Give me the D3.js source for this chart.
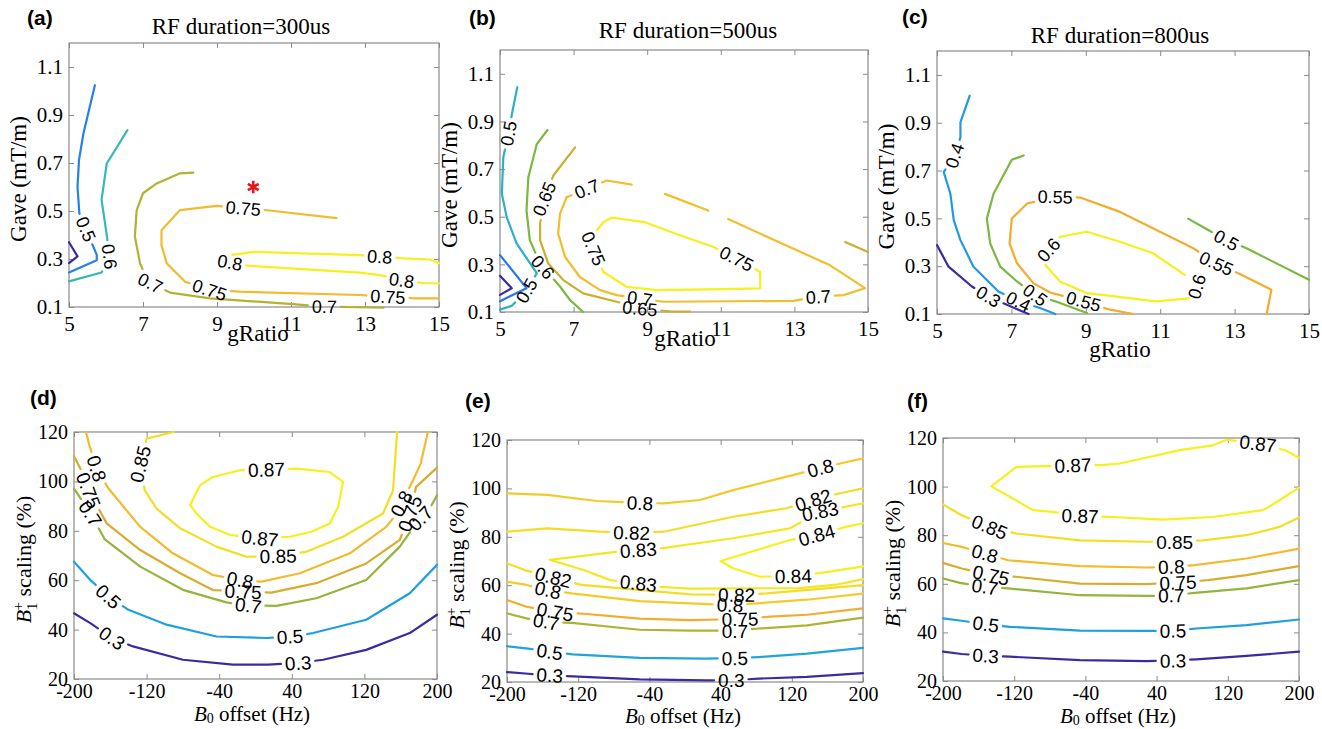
<!doctype html>
<html lang="en">
<head>
<meta charset="utf-8">
<title>Contour maps - gRatio / Gave and B0 / B1+</title>
<script src="https://cdn.jsdelivr.net/npm/d3@7"></script>
<style>
  body { margin: 0; background: #fff; }
  svg text { font-family: "Liberation Serif", "Times New Roman", serif; fill: #000; }
  .clabel { font-family: "Liberation Sans", Arial, sans-serif; }
  .tag { font-family: "Liberation Sans", Arial, sans-serif; font-weight: bold; }
</style>
</head>
<body>
<svg id="chart" width="1322" height="729"></svg>
<script>
// ---------- data ----------
const gRatioTicks = [5, 7, 9, 11, 13, 15];
const gaveTicks = [0.1, 0.3, 0.5, 0.7, 0.9, 1.1];
const b0Ticks = [-200, -120, -40, 40, 120, 200];
const b1Ticks = [20, 40, 60, 80, 100, 120];
const titles = ["RF duration=300us", "RF duration=500us", "RF duration=800us"];
const tags = ["(a)", "(b)", "(c)", "(d)", "(e)", "(f)"];

// contour lines: [level, points as [x, y]]
const aLines = [
  [0.4, [[5.0,0.37],[5.23,0.311],[5.0,0.283]]],
  [0.5, [[5.7,1.024],[5.39,0.823],[5.27,0.712],[5.23,0.601],[5.28,0.49],[5.75,0.317],[5.75,0.295],[5.0,0.244]]],
  [0.6, [[6.58,0.837],[6.02,0.698],[5.88,0.546],[6.0,0.421],[6.1,0.31],[5.88,0.244],[5.0,0.207]]],
  [0.7, [[8.36,0.66],[8.0,0.657],[7.37,0.615],[7.0,0.574],[6.83,0.504],[6.78,0.394],[6.92,0.282],[7.14,0.205],[7.73,0.16],[8.81,0.136],[11.06,0.112],[11.87,0.102],[12.5,0.1],[13.5,0.097]]],
  [0.75, [[12.23,0.47],[10.42,0.502],[8.99,0.521],[8.0,0.504],[7.5,0.42],[7.5,0.358],[7.64,0.282],[8.14,0.205],[8.81,0.171],[9.62,0.164],[12.86,0.15],[13.63,0.143],[14.35,0.136],[15,0.136]]],
  [0.8, [[15,0.199],[14.58,0.199],[13.99,0.212],[13.41,0.233],[12.86,0.243],[9.89,0.271],[9.2,0.29],[9.35,0.316],[9.98,0.33],[12.86,0.316],[14.04,0.303],[14.76,0.298],[15,0.282]]]
];
// contour labels: [level, x, y]
const aLabels = [[0.5,5.39,0.42],[0.6,6.1,0.31],[0.7,7.2,0.2],[0.7,11.9,0.102],[0.75,9.71,0.507],[0.75,8.81,0.175],[0.75,13.62,0.143],[0.8,9.35,0.285],[0.8,13.4,0.31],[0.8,13.99,0.212]];
const aStar = [9.98, 0.6];

const bLines = [
  [0.3, [[5.0,0.252],[5.32,0.2],[5.0,0.172]]],
  [0.4, [[5.0,0.339],[5.72,0.2],[5.0,0.145]]],
  [0.5, [[5.47,1.044],[5.34,0.944],[5.23,0.85],[5.09,0.75],[5.05,0.597],[5.18,0.499],[5.45,0.388],[6.0,0.263],[5.72,0.19],[5.32,0.126],[5.0,0.11]]],
  [0.6, [[6.29,0.864],[6.0,0.805],[5.77,0.666],[5.72,0.527],[5.81,0.402],[6.1,0.3],[6.63,0.207],[6.9,0.151],[7.26,0.1]]],
  [0.65, [[7.04,0.791],[6.45,0.673],[6.2,0.575],[6.09,0.471],[6.09,0.401],[6.31,0.304],[6.72,0.234],[7.26,0.178],[8.17,0.143],[8.8,0.115],[9.67,0.102],[10.16,0.102]]],
  [0.65, [[14.38,0.394],[15,0.352]]],
  [0.7, [[6.81,0.582],[7.36,0.617],[7.9,0.652],[8.58,0.635]]],
  [0.7, [[9.48,0.596],[10.66,0.526]]],
  [0.7, [[11.2,0.49],[13.97,0.296],[14.92,0.2],[14.33,0.171],[13.65,0.164],[12.97,0.147],[9.44,0.143],[8.8,0.157],[8.17,0.171],[7.72,0.192],[7.17,0.247],[6.77,0.331],[6.58,0.429],[6.63,0.512],[6.81,0.582]]],
  [0.75, [[7.63,0.443],[7.81,0.477],[8.03,0.496],[8.94,0.477],[9.89,0.422],[10.8,0.373],[11.43,0.324],[12.07,0.268],[12.07,0.199],[11.07,0.196],[9.26,0.192],[8.44,0.206],[7.81,0.268],[7.54,0.366],[7.63,0.443]]]
];
const bLabels = [[0.5,5.23,0.85],[0.5,5.72,0.19],[0.6,6.18,0.29],[0.65,6.2,0.575],[0.65,8.8,0.112],[0.7,7.36,0.617],[0.7,8.8,0.157],[0.7,13.65,0.164],[0.75,11.43,0.324],[0.75,7.54,0.366]];

const cLines = [
  [0.3, [[5.0,0.388],[5.31,0.298],[5.94,0.215],[6.42,0.17],[6.97,0.132],[7.46,0.1]]],
  [0.4, [[5.88,1.013],[5.63,0.902],[5.63,0.839],[5.47,0.763],[5.18,0.694],[5.36,0.603],[5.45,0.493],[5.63,0.409],[5.98,0.298],[6.65,0.194],[7.19,0.153],[7.77,0.125],[8.18,0.1]]],
  [0.5, [[7.33,0.763],[7.01,0.745],[6.52,0.603],[6.34,0.499],[6.43,0.395],[6.7,0.298],[7.15,0.236],[7.64,0.18],[8.18,0.153],[9.03,0.104]]],
  [0.5, [[11.75,0.499],[12.29,0.451],[12.78,0.409],[13.32,0.375],[15,0.243]]],
  [0.55, [[13.86,0.1],[13.99,0.201],[13.18,0.264],[12.51,0.312],[11.89,0.375],[9.92,0.527],[8.85,0.587],[8.18,0.59],[7.42,0.562],[7.01,0.499],[6.95,0.395],[7.15,0.312],[7.59,0.229],[8.04,0.19],[8.94,0.153],[9.65,0.118],[10.28,0.1]]],
  [0.6, [[7.91,0.305],[8.31,0.236],[9.03,0.187],[10.9,0.153],[11.89,0.167],[11.98,0.215],[11.66,0.264],[10.81,0.354],[9.92,0.402],[9.03,0.444],[8.31,0.423],[8.0,0.368],[7.91,0.305]]]
];
const cLabels = [[0.3,6.41,0.18],[0.4,5.47,0.763],[0.4,7.19,0.153],[0.5,7.64,0.18],[0.5,12.78,0.409],[0.55,8.18,0.59],[0.55,12.51,0.312],[0.55,8.94,0.153],[0.6,11.98,0.215],[0.6,8.0,0.368]];

const dLines = [
  [0.3, [[-200,46.6],[-182,42.6],[-158,36.6],[-135,33.2],[-80,27.8],[-25,25.8],[14,25.8],[47,26.5],[74.5,27.8],[122,31.8],[170,38.6],[200,46]]],
  [0.5, [[-200,67.5],[-182,60.1],[-162,53.4],[-140,48],[-98,42],[-43,37.2],[12,36.6],[38,37.2],[63.5,38.6],[122,44],[170,54.7],[200,66.2]]],
  [0.7, [[-200,97.1],[-194,93.8],[-182,87],[-166,76.5],[-127,65.5],[-80,56.1],[-32,51],[-8,49.8],[23,49.6],[67,52.7],[122,60.1],[159,73.6],[179,84],[192,89],[200,94.4]]],
  [0.75, [[-200,110.2],[-193,105.2],[-184,96.4],[-164,83],[-127,72.2],[-83,62.8],[-47,56],[-13.6,55.4],[17.6,55],[67,58.8],[122,66.8],[159,76.3],[170,87],[177,97.8],[200,105.6]]],
  [0.8, [[-186.8,120],[-183,114.6],[-175,105.2],[-162,97.1],[-127,81.6],[-91,70.9],[-47,62.1],[-17,60.1],[6.6,59.4],[49,62.8],[104,70.9],[144,81.6],[153,85.7],[160.7,91],[173.6,100.5],[182,107.2],[190,120]]],
  [0.85, [[-90,120],[-120,117.3],[-127,107],[-122,96.4],[-109,89],[-83,81],[-43,73.6],[-10,69.5],[25,69.8],[56,71.5],[96.5,77.6],[140.5,87],[151.6,96.4],[156,120]]],
  [0.87, [[-17,104.5],[-47,101.8],[-61,98.5],[-72,90.4],[-65,87],[-50,81.6],[-28,78.3],[4.8,77],[37.8,77.6],[61.6,79.6],[81.8,83],[91,89.7],[96.5,99.8],[81.8,103.8],[45,105.2],[12,104.8],[-17,104.5]]]
];
const dLabels = [[0.3,-158,36.6],[0.3,47,26.5],[0.5,-162,53.4],[0.5,38,37.2],[0.7,-182,87],[0.7,-8,49.8],[0.7,179,86],[0.75,-184,96.4],[0.75,-13.6,55.4],[0.75,170,87],[0.8,-175,105.2],[0.8,-17,60.1],[0.8,160.7,91],[0.85,-127,107],[0.85,25,69.8],[0.87,12,104.8],[0.87,4.8,77]];

const eLines = [
  [0.3, [[-200,24.1],[-176,23.4],[-152,22.8],[-126,22.3],[-51,21.1],[24,20.7],[52,20.7],[83,21.4],[137,22.1],[200,23.7]]],
  [0.5, [[-200,34.8],[-176,33.8],[-152,32.5],[-126,31.4],[-51,30],[24,29.7],[56,29.8],[83,30.3],[137,31.7],[200,34.1]]],
  [0.7, [[-200,48.4],[-178,46.3],[-156,44.9],[-127,44.4],[-51,41.6],[5.6,41.2],[56,41.2],[83,42.1],[137,43.4],[200,46.6]]],
  [0.75, [[-200,53.9],[-178,51.1],[-146,49],[-114,48.2],[-51,46.2],[5.6,45.6],[61.8,46],[95.5,47],[137,47.8],[200,50.4]]],
  [0.8, [[-200,61.4],[-178,60.1],[-154,58],[-127,56.6],[-51,53.4],[5.6,52.5],[50.6,51.8],[80.5,52.5],[137,54],[200,56.5]]],
  [0.8, [[-200,98],[-155,97.3],[-99,94.8],[-50.6,94],[-24,93.8],[17,95.2],[54,99.3],[121,105.5],[152,108.4],[178,110.6],[200,112.4]]],
  [0.82, [[-200,82.1],[-155,83.5],[-95.5,82.1],[-60,81.7],[-24,82.1],[54,88.3],[114,91.8],[144,95.2],[174,98],[200,100]]],
  [0.82, [[-200,69.1],[-178,66],[-148,63.3],[-116,60.1],[-84,59.1],[5.6,56.2],[58,56],[91.8,56.6],[200,60]]],
  [0.83, [[200,93.8],[180,92.4],[152,90.4],[118,83.5],[54,79.4],[-28,75.2],[-52.5,74.5],[-77,73.8],[-152,70.5],[-114,66.3],[-84,62.1],[-52.5,60.8],[-32,59.4],[5.6,58.6],[129,58.8],[170,60.2],[200,62.5]]],
  [0.84, [[200,85.6],[181.7,84.2],[148,80.7],[118,78.7],[40,70],[54,67],[84,63.5],[121.7,63.8],[155.5,65.2],[200,67.8]]]
];
const eLabels = [[0.3,-152,22.8],[0.3,52,20.7],[0.5,-152,32.5],[0.5,56,29.8],[0.7,-156,44.9],[0.7,56,41.2],[0.75,-146,49],[0.75,61.8,46],[0.8,-154,58],[0.8,50.6,51.8],[0.8,-50.6,94],[0.8,152,108.4],[0.82,-60,81.7],[0.82,144,95.2],[0.82,-148,63.3],[0.82,58,56],[0.83,-52.5,74.5],[0.83,152,90.4],[0.83,-52.5,60.8],[0.84,148,80.7],[0.84,121.7,63.8]];

const fLines = [
  [0.3, [[-200,32.1],[-179,31.1],[-152,30.4],[-125,30],[-46,28.6],[28.5,28.2],[58.4,28.4],[84.6,28.9],[141,30.3],[200,32.1]]],
  [0.5, [[-200,45.8],[-179,44.8],[-152,43.4],[-125,42.3],[-46,40.7],[28.5,40.6],[58.4,40.7],[84.6,41.6],[141,43],[200,45.3]]],
  [0.7, [[-200,62.2],[-181,60.4],[-153,58.8],[-127,58.1],[-46,55.3],[28.5,55],[56.5,55.2],[82.8,56.3],[141,58.1],[200,61.5]]],
  [0.75, [[-200,68.6],[-179,66.3],[-146,63.6],[-118,62.9],[-46,60.1],[28.5,59.9],[64,60.5],[97.8,61.5],[141,63.6],[200,67.3]]],
  [0.8, [[-200,76.8],[-179,75.2],[-153,72.5],[-127,69.7],[-46,67.3],[28.5,66.7],[56.5,67],[82.8,67.7],[141,70.4],[200,74.5]]],
  [0.85, [[-200,92.7],[-179,88.2],[-147.6,83.4],[-118,80.7],[-46,77.9],[28.5,77.3],[60.3,77.3],[92,77.9],[141,80],[178,83.4],[200,87.3]]],
  [0.87, [[200,99.6],[178,94.4],[159.6,90.3],[103,87.5],[47,86.4],[-9,87.5],[-46,88],[-76,89.6],[-99,90.3],[-121,95],[-145.7,100.1],[-117.6,108.1],[-84,108.4],[-54,108.8],[-22,108.8],[-1.5,109.5],[66,115],[103,117],[119,119.3],[154,117.7],[184,115],[200,111.9]]]
];
const fLabels = [[0.3,-152,30.4],[0.3,58.4,28.4],[0.5,-152,43.4],[0.5,58.4,40.7],[0.7,-153,58.8],[0.7,56.5,55.2],[0.75,-146,63.6],[0.75,64,60.5],[0.8,-153,72.5],[0.8,56.5,67],[0.85,-147.6,83.4],[0.85,60.3,77.3],[0.87,-46,88],[0.87,-54,108.8],[0.87,154,117.7]];

// ---------- layout ----------
const topRow = { xDomain: [5, 15], yDomain: [0.1, 1.2], xTicks: gRatioTicks, yTicks: gaveTicks, yFmt: d3.format(".1f"), labelSize: 18, xPad: 9, tickSize: 21 };
const botRow = { xDomain: [-200, 200], yDomain: [20, 120], xTicks: b0Ticks, yTicks: b1Ticks, yFmt: d => String(d), labelSize: 19, xPad: 5, tickSize: 20 };

const panels = [
  { row: topRow, lines: aLines, labels: aLabels, box: [69, 439, 43, 307], title: titles[0], titleAt: [241, 34], tagAt: [27, 25], xLabAt: [258, 341], star: aStar },
  { row: topRow, lines: bLines, labels: bLabels, box: [500, 868, 50, 312], title: titles[1], titleAt: [688, 38], tagAt: [469, 25], xLabAt: [685, 346] },
  { row: topRow, lines: cLines, labels: cLabels, box: [937, 1309, 51, 314], title: titles[2], titleAt: [1120, 43], tagAt: [902, 24], xLabAt: [1120, 357] },
  { row: botRow, lines: dLines, labels: dLabels, box: [74, 437, 432, 679], tagAt: [30, 405], xLabAt: [252, 721] },
  { row: botRow, lines: eLines, labels: eLabels, box: [507, 863, 440, 682], tagAt: [465, 408], xLabAt: [683, 723] },
  { row: botRow, lines: fLines, labels: fLabels, box: [943, 1299, 438, 681], tagAt: [907, 408], xLabAt: [1118, 723] }
];

// parula-like colormap, spread over each panel's level range
const parula = d3.scaleLinear()
  .domain([0, 0.2, 0.35, 0.5, 0.63, 0.75, 0.82, 0.92, 1])
  .range(["#3a2ca0", "#2a6ef0", "#1ea0e0", "#34bab4", "#62b948", "#b4b232", "#f2a92e", "#f2c82c", "#f5f01e"])
  .clamp(true);

const svg = d3.select("#chart");
const measure = svg.append("text").attr("class", "clabel").style("visibility", "hidden");
function textWidth(s, size) {
  measure.style("font-size", size + "px").text(s);
  return measure.node().getComputedTextLength();
}

// nearest point on a pixel polyline, with arc length and local angle
function project(P, q) {
  let best = { d: Infinity }, s = 0;
  for (let i = 0; i < P.length - 1; i++) {
    const [x1, y1] = P[i], [x2, y2] = P[i + 1];
    const dx = x2 - x1, dy = y2 - y1, L = Math.hypot(dx, dy);
    let t = L ? ((q[0] - x1) * dx + (q[1] - y1) * dy) / (L * L) : 0;
    t = Math.max(0, Math.min(1, t));
    const px = x1 + t * dx, py = y1 + t * dy;
    const d = Math.hypot(q[0] - px, q[1] - py);
    if (d < best.d) best = { d, s: s + t * L, x: px, y: py, ang: Math.atan2(dy, dx) * 180 / Math.PI };
    s += L;
  }
  return best;
}

// cut gaps out of a polyline where its labels sit
function pieces(P, cuts) {
  const S = [0];
  for (let i = 1; i < P.length; i++) S.push(S[i - 1] + Math.hypot(P[i][0] - P[i - 1][0], P[i][1] - P[i - 1][1]));
  const total = S[S.length - 1];
  const at = s => {
    let i = 0;
    while (i < S.length - 2 && S[i + 1] < s) i++;
    const L = S[i + 1] - S[i], t = L ? (s - S[i]) / L : 0;
    return [P[i][0] + t * (P[i + 1][0] - P[i][0]), P[i][1] + t * (P[i + 1][1] - P[i][1])];
  };
  cuts.sort((a, b) => a[0] - b[0]);
  const vis = [];
  let cur = 0;
  cuts.forEach(([u, v]) => {
    if (u > cur) vis.push([cur, u]);
    cur = Math.max(cur, v);
  });
  if (cur < total) vis.push([cur, total]);
  return vis.filter(([u, v]) => v - u > 0.5).map(([u, v]) => {
    const pts = [at(u)];
    S.forEach((s, i) => { if (s > u && s < v) pts.push(P[i]); });
    pts.push(at(v));
    return pts;
  });
}

const line = d3.line();
const grey = "#8a8a8a";

panels.forEach((p, k) => {
  const [x0, x1, y0, y1] = p.box;
  const row = p.row;
  const x = d3.scaleLinear().domain(row.xDomain).range([x0, x1]);
  const y = d3.scaleLinear().domain(row.yDomain).range([y1, y0]);
  const g = svg.append("g");

  // axes with inward ticks on all four sides
  const styleAxis = sel => {
    sel.select(".domain").remove();
    sel.selectAll(".tick line").attr("stroke", grey);
    sel.attr("font-family", null).attr("font-size", null);
    sel.selectAll("text").style("font-size", row.tickSize + "px").attr("fill", "#000");
  };
  g.append("g").attr("transform", `translate(0,${y1})`)
    .call(d3.axisBottom(x).tickValues(row.xTicks).tickFormat(d => String(d)).tickSize(-5).tickPadding(row.xPad)).call(styleAxis);
  g.append("g").attr("transform", `translate(${x0},0)`)
    .call(d3.axisLeft(y).tickValues(row.yTicks).tickFormat(row.yFmt).tickSize(-5).tickPadding(6)).call(styleAxis);
  g.append("g").attr("transform", `translate(0,${y0})`)
    .call(d3.axisTop(x).tickValues(row.xTicks).tickSize(-5).tickFormat("")).call(styleAxis);
  g.append("g").attr("transform", `translate(${x1},0)`)
    .call(d3.axisRight(y).tickValues(row.yTicks).tickSize(-5).tickFormat("")).call(styleAxis);
  g.append("rect").attr("x", x0).attr("y", y0).attr("width", x1 - x0).attr("height", y1 - y0)
    .attr("fill", "none").attr("stroke", grey).attr("stroke-width", 1.2);

  // contour lines and labels
  const levels = p.lines.map(d => d[0]);
  const lo = d3.min(levels), hi = d3.max(levels);
  const color = v => parula((v - lo) / (hi - lo));
  const pix = p.lines.map(([lev, pts]) => ({ lev, P: pts.map(([a, b]) => [x(a), y(b)]), cuts: [] }));
  const placed = [];
  p.labels.forEach(([lev, lx, ly]) => {
    const q = [x(lx), y(ly)];
    let best = null, owner = null;
    pix.filter(l => l.lev === lev).forEach(l => {
      const r = project(l.P, q);
      if (!best || r.d < best.d) { best = r; owner = l; }
    });
    const txt = String(lev);
    const w = textWidth(txt, row.labelSize);
    owner.cuts.push([best.s - w / 2 - 4, best.s + w / 2 + 4]);
    let a = best.ang;
    if (a > 90) a -= 180;
    if (a < -90) a += 180;
    placed.push({ txt, x: best.x, y: best.y, a });
  });
  pix.forEach(l => {
    pieces(l.P, l.cuts).forEach(seg => {
      g.append("path").attr("d", line(seg)).attr("fill", "none")
        .attr("stroke", color(l.lev)).attr("stroke-width", 2.2)
        .attr("stroke-linejoin", "round").attr("stroke-linecap", "round");
    });
  });
  g.selectAll(".clabel-" + k).data(placed).join("text")
    .attr("class", "clabel")
    .attr("transform", d => `translate(${d.x},${d.y}) rotate(${d.a})`)
    .attr("text-anchor", "middle").attr("dy", "0.36em")
    .style("font-size", row.labelSize + "px")
    .text(d => d.txt);

  if (p.star) {
    g.append("path").attr("d", d3.symbol(d3.symbolAsterisk, 110)())
      .attr("transform", `translate(${x(p.star[0])},${y(p.star[1])})`)
      .attr("fill", "none").attr("stroke", "#e8141c").attr("stroke-width", 2.6);
  }

  // texts
  g.append("text").attr("class", "tag").attr("x", p.tagAt[0]).attr("y", p.tagAt[1])
    .style("font-size", "21px").text(tags[k]);
  if (p.title) {
    g.append("text").attr("x", p.titleAt[0]).attr("y", p.titleAt[1]).attr("text-anchor", "middle")
      .style("font-size", "23px").text(p.title);
  }
  const yMid = (y0 + y1) / 2 + 4;
  if (row === topRow) {
    g.append("text").attr("x", p.xLabAt[0]).attr("y", p.xLabAt[1]).attr("text-anchor", "middle")
      .style("font-size", "23px").text("gRatio");
    g.append("text").attr("transform", `translate(${x0 - 43},${yMid}) rotate(-90)`).attr("text-anchor", "middle")
      .style("font-size", "23px").text("Gave (mT/m)");
  } else {
    const xl = g.append("text").attr("x", p.xLabAt[0]).attr("y", p.xLabAt[1]).attr("text-anchor", "middle")
      .style("font-size", "21px");
    xl.append("tspan").style("font-style", "italic").text("B");
    xl.append("tspan").attr("dy", 2).style("font-size", "14px").text("0");
    xl.append("tspan").attr("dy", -2).text(" offset (Hz)");
    const yl = g.append("text").attr("transform", `translate(${x0 - 43},${yMid}) rotate(-90)`)
      .attr("text-anchor", "middle").style("font-size", "22px");
    yl.append("tspan").style("font-style", "italic").text("B");
    yl.append("tspan").attr("dy", 6).style("font-size", "15px").text("1");
    yl.append("tspan").attr("dx", -8).attr("dy", -14).style("font-size", "15px").text("+");
    yl.append("tspan").attr("dy", 8).text(" scaling (%)");
  }
});
measure.remove();
</script>
</body>
</html>
